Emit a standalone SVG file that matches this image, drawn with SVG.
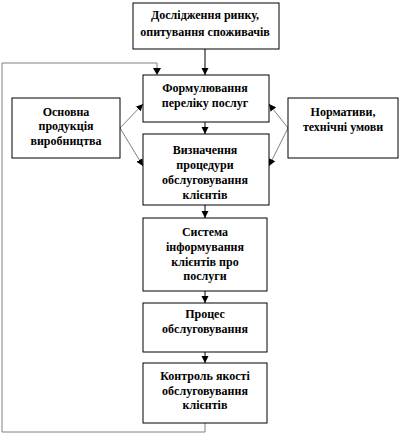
<svg xmlns="http://www.w3.org/2000/svg" width="400" height="436" viewBox="0 0 400 436">
<defs>
<style>
.box{fill:#fff;stroke:#000;stroke-width:1}
.t{font-family:'Liberation Serif','Times New Roman',serif;font-weight:700;font-size:12px;text-anchor:middle;fill:#000}
.c{fill:none;stroke:#000;stroke-width:1}
.g{fill:none;stroke:#808080;stroke-width:1}
</style>
<marker id="ah" viewBox="0 0 10 10" refX="10" refY="5" markerWidth="7" markerHeight="8" markerUnits="userSpaceOnUse" orient="auto">
<path d="M0,0 L10,5 L0,10 z" fill="#000"/>
</marker>
</defs>
<rect width="400" height="436" fill="#fff"/>
<g id="connectors">
<line class="c" x1="205" y1="49" x2="205" y2="75" marker-end="url(#ah)"/>
<line class="c" x1="205" y1="122" x2="205" y2="134" marker-end="url(#ah)"/>
<line class="c" x1="205" y1="205" x2="205" y2="218" marker-end="url(#ah)"/>
<line class="c" x1="205" y1="291" x2="205" y2="303" marker-end="url(#ah)"/>
<line class="c" x1="205" y1="352" x2="205" y2="363" marker-end="url(#ah)"/>
<polyline class="g" points="205,423 205,432 2,432 2,63 157,63 157,74"/>
<path d="M153,68 L161,68 L157,75 z" fill="#000"/>
<line class="g" x1="120" y1="128" x2="143" y2="104" marker-end="url(#ah)"/>
<line class="g" x1="120" y1="128" x2="143" y2="166" marker-end="url(#ah)"/>
<line class="g" x1="288" y1="128" x2="269" y2="104" marker-end="url(#ah)"/>
<line class="g" x1="288" y1="128" x2="269" y2="166" marker-end="url(#ah)"/>
</g>
<g id="n1">
<rect class="box" x="133" y="3" width="146" height="46"/>
<text class="t" x="205" y="19" font-family="Liberation Serif">Дослідження ринку,</text>
<text class="t" x="205" y="36" font-family="Liberation Serif">опитування споживачів</text>
</g>
<g id="n2">
<rect class="box" x="143" y="75" width="126" height="47"/>
<text class="t" x="205" y="92">Формулювання</text>
<text class="t" x="205" y="107">переліку послуг</text>
</g>
<g id="n3">
<rect class="box" x="143" y="134" width="126" height="71"/>
<text class="t" x="205" y="154">Визначення</text>
<text class="t" x="205" y="169">процедури</text>
<text class="t" x="205" y="184">обслуговування</text>
<text class="t" x="205" y="199">клієнтів</text>
</g>
<g id="n4">
<rect class="box" x="143" y="218" width="124" height="73"/>
<text class="t" x="205" y="236">Система</text>
<text class="t" x="205" y="251">інформування</text>
<text class="t" x="205" y="266">клієнтів про</text>
<text class="t" x="205" y="280">послуги</text>
</g>
<g id="n5">
<rect class="box" x="143" y="303" width="124" height="49"/>
<text class="t" x="205" y="318">Процес</text>
<text class="t" x="205" y="333">обслуговування</text>
</g>
<g id="n6">
<rect class="box" x="143" y="363" width="124" height="60"/>
<text class="t" x="205" y="380">Контроль якості</text>
<text class="t" x="205" y="395">обслуговування</text>
<text class="t" x="205" y="409">клієнтів</text>
</g>
<g id="n7">
<rect class="box" x="12" y="98" width="108" height="60"/>
<text class="t" x="66" y="116">Основна</text>
<text class="t" x="66" y="130">продукція</text>
<text class="t" x="66" y="145">виробництва</text>
</g>
<g id="n8">
<rect class="box" x="288" y="98" width="110" height="60"/>
<text class="t" x="343" y="116">Нормативи,</text>
<text class="t" x="343" y="131">технічні умови</text>
</g>
</svg>
